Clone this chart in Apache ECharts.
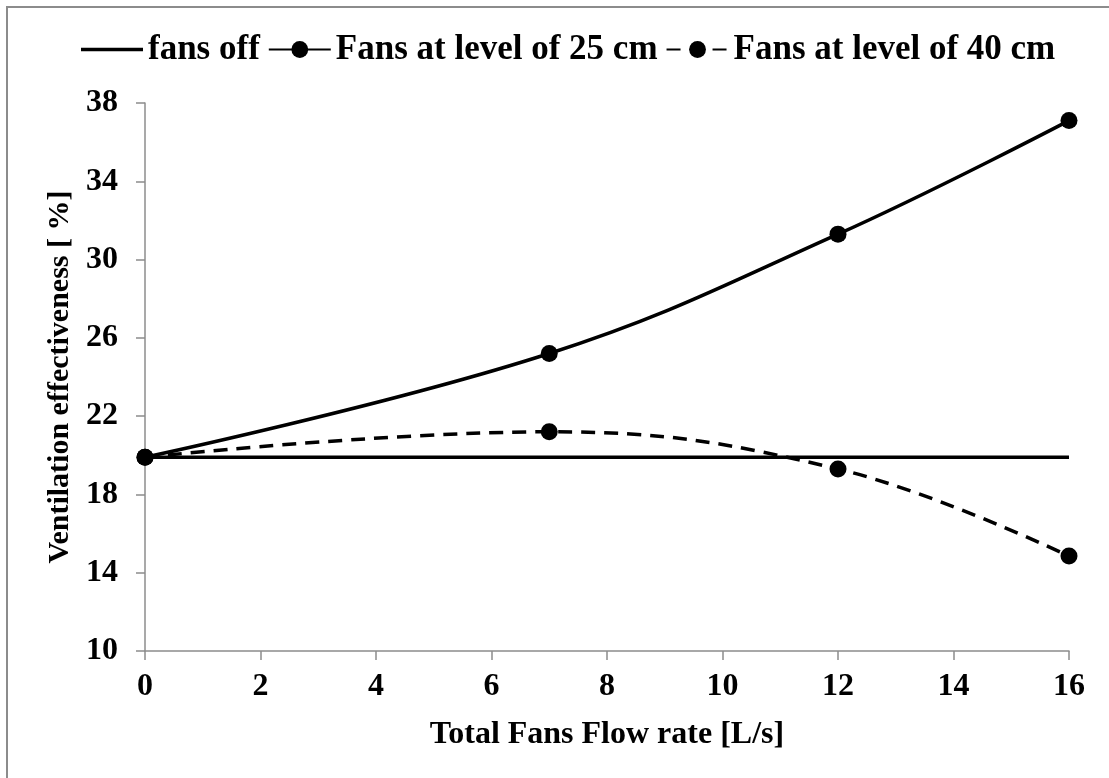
<!DOCTYPE html>
<html>
<head>
<meta charset="utf-8">
<script src="https://cdn.jsdelivr.net/npm/echarts@6/dist/echarts.min.js"></script>
<style>html,body{margin:0;padding:0;background:#fff;}#c{width:1109px;height:778px;}</style>
</head>
<body>
<div id="c"></div>
<script>
const flowRates = [0, 7, 12, 16];
const fansOffX = [0, 16];
const fansOff = [19.9, 19.9];
const fans25 = [19.9, 25.2, 31.3, 37.1];
const fans40 = [19.9, 21.2, 19.3, 14.85];
const xTicks = [0, 2, 4, 6, 8, 10, 12, 14, 16];
const yTicks = [10, 14, 18, 22, 26, 30, 34, 38];

const FONT = '"Liberation Serif", "Times New Roman", serif';
const pair = (xs, ys) => xs.map((x, i) => [x, ys[i]]);

const chart = echarts.init(document.getElementById('c'), null, {renderer: 'canvas'});
chart.setOption({
  animation: false,
  backgroundColor: '#fff',
  textStyle: {fontFamily: FONT, fontWeight: 'bold', color: '#000'},
  graphic: [{
    type: 'rect', silent: true, z: -10,
    shape: {x: 7, y: 7, width: 1300, height: 1000},
    style: {fill: 'none', stroke: '#8c8c8c', lineWidth: 2}
  }],
  legend: {
    top: 27, left: 76,
    itemWidth: 62, itemHeight: 21, itemGap: 8,
    textStyle: {fontFamily: FONT, fontWeight: 'bold', fontSize: 35, color: '#000'},
    data: [
      {name: 'fans off', icon: 'path://M0,0L64,0L64,3.5L0,3.5Z', itemStyle: {color: '#000'}},
      'Fans at level of 25 cm',
      'Fans at level of 40 cm'
    ]
  },
  grid: {left: 145, right: 40, top: 103, bottom: 127},
  xAxis: {
    type: 'value', min: xTicks[0], max: xTicks[xTicks.length - 1], interval: 2,
    name: 'Total Fans Flow rate [L/s]', nameLocation: 'middle', nameGap: 68,
    nameTextStyle: {fontFamily: FONT, fontWeight: 'bold', fontSize: 32, color: '#000'},
    axisLine: {lineStyle: {color: '#8c8c8c', width: 1.5}},
    axisTick: {show: true, length: 9, lineStyle: {color: '#8c8c8c', width: 1.5}},
    axisLabel: {fontFamily: FONT, fontWeight: 'bold', fontSize: 32, color: '#000', margin: 20},
    splitLine: {show: false}
  },
  yAxis: {
    type: 'value', min: yTicks[0], max: yTicks[yTicks.length - 1], interval: 4,
    name: 'Ventilation effectiveness [ %]', nameLocation: 'middle', nameGap: 68, nameRotate: 90,
    nameTextStyle: {fontFamily: FONT, fontWeight: 'bold', fontSize: 30, color: '#000'},
    axisLine: {show: true, lineStyle: {color: '#8c8c8c', width: 1.5}},
    axisTick: {show: true, length: 9, lineStyle: {color: '#8c8c8c', width: 1.5}},
    axisLabel: {fontFamily: FONT, fontWeight: 'bold', fontSize: 32, color: '#000', margin: 27},
    splitLine: {show: false}
  },
  series: [
    {
      name: 'fans off', type: 'line', data: pair(fansOffX, fansOff),
      symbol: 'none', lineStyle: {color: '#000', width: 3.5}, itemStyle: {color: '#000'}, z: 2
    },
    {
      name: 'Fans at level of 25 cm', type: 'line', data: pair(flowRates, fans25), smooth: 0.4,
      symbol: 'circle', symbolSize: 17,
      lineStyle: {color: '#000', width: 3.5}, itemStyle: {color: '#000'}, z: 3
    },
    {
      name: 'Fans at level of 40 cm', type: 'line', data: pair(flowRates, fans40), smooth: 0.4,
      symbol: 'circle', symbolSize: 17,
      lineStyle: {color: '#000', width: 3.5, type: [14, 9]}, itemStyle: {color: '#000'}, z: 3
    }
  ]
});
</script>
</body>
</html>
